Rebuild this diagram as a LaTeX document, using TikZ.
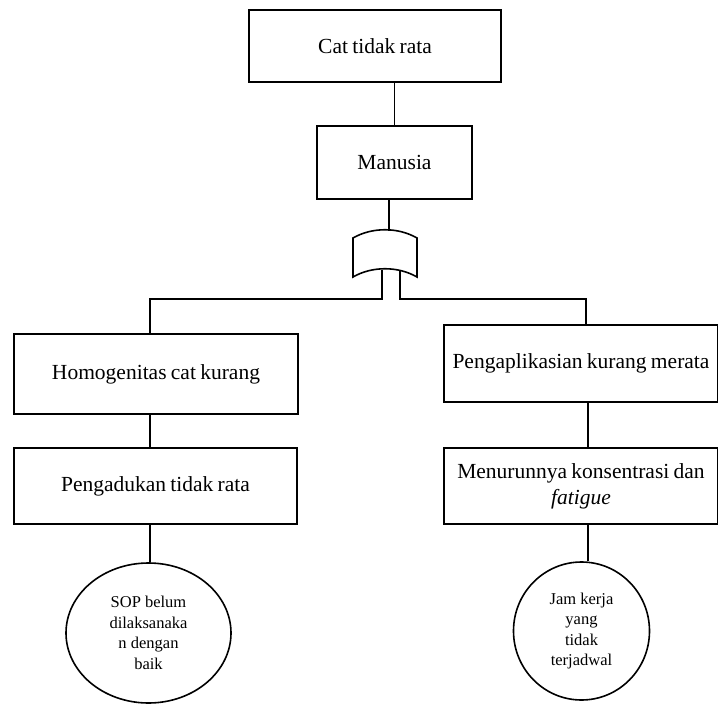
\documentclass[tikz,border=0pt]{standalone}
\usepackage{fontspec}
\setmainfont{Liberation Serif}
\usetikzlibrary{shapes.geometric}
\newcommand\boxtextfont{\fontsize{21.5}{27}\selectfont\spaceskip=0.2em plus 0.1em\relax}

\begin{document}
\begin{tikzpicture}[x=1pt,y=-1pt,
  line width=1.6pt,
  box/.style={draw, rectangle, inner sep=0pt, align=center, font=\boxtextfont},
  cause/.style={draw, ellipse, inner sep=0pt, align=center,
                font=\fontsize{16.5}{20.5}\selectfont}]
\useasboundingbox (0,0) rectangle (718,704);

% top event and first level
\node[box, minimum width=252pt, minimum height=72pt] (top) at (375,46) {Cat tidak rata};
\node[box, minimum width=155pt, minimum height=73pt] (man) at (394.5,162.5) {Manusia};

% second level
\node[box, minimum width=284pt, minimum height=80pt] (homo) at (156,374) {Homogenitas cat kurang};
\node[box, minimum width=274pt, minimum height=77pt] (apl) at (581,363.5) {Pengaplikasian kurang merata};

% third level
\node[box, minimum width=283pt, minimum height=76pt] (aduk) at (155.5,486) {Pengadukan tidak rata};
\node[box, minimum width=274pt, minimum height=76pt] (turun) at (581,486)
  {Menurunnya konsentrasi dan\\[-1pt]\textit{fatigue}};

% root causes
\node[cause, minimum width=165pt, minimum height=140pt] (sop) at (148.5,633)
  {SOP belum\\dilaksanaka\\n dengan\\baik};
\node[cause, minimum width=136pt, minimum height=138pt] (jam) at (581.5,631)
  {Jam kerja\\yang\\tidak\\terjadwal};

% OR gate below "Manusia"
\coordinate (gin) at (389,231);
\coordinate (gl) at (382,270);
\coordinate (gr) at (400,270);
\draw (353,238) .. controls (372,227) and (398,227) .. (417,238)
      -- (417,277) .. controls (398,266) and (372,266) .. (353,277) -- cycle;

% connectors
\draw (top.south -| man.north) -- (man.north);
\draw (gin |- man.south) -- (gin);
\coordinate (bl) at (150,299);
\coordinate (br) at (586,299);
\draw (gl) -- (gl |- bl) -- (bl) -- (bl |- homo.north);
\draw (gr) -- (gr |- br) -- (br) -- (br |- apl.north);
\draw (bl |- homo.south) -- (bl |- aduk.north);
\draw (aduk.south -| bl) -- (sop.north -| bl);
\coordinate (rc) at (588,0);
\draw (rc |- apl.south) -- (rc |- turun.north);
\draw (rc |- turun.south) -- (jam.north -| rc);
\end{tikzpicture}
\end{document}
